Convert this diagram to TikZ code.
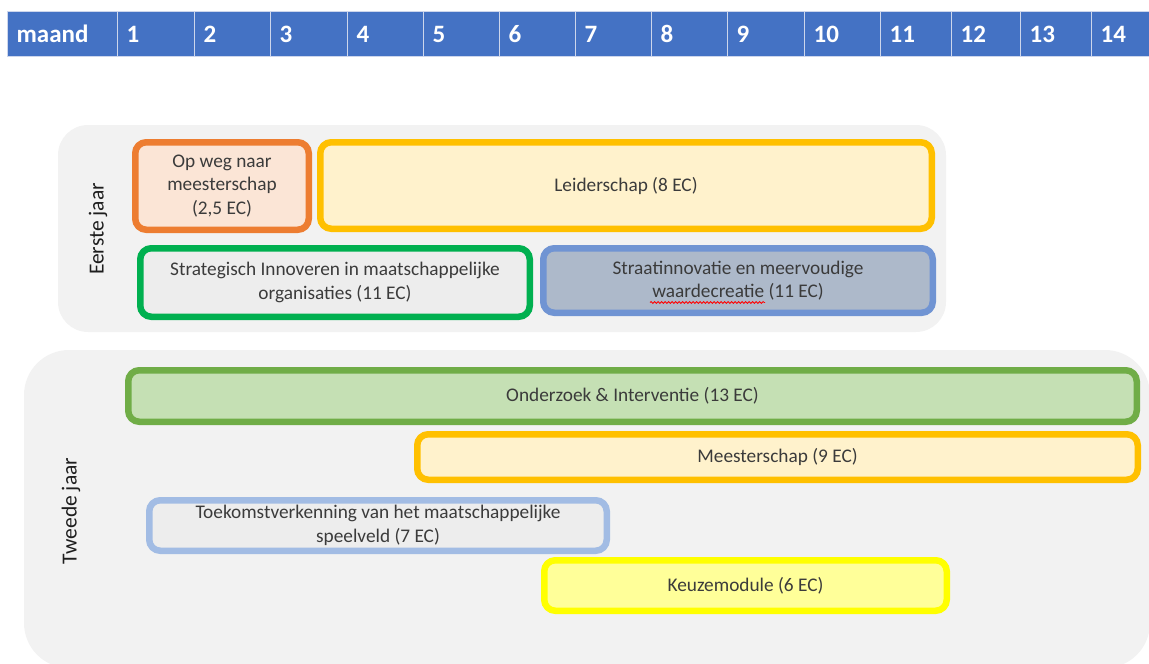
\documentclass[tikz,border=0pt]{standalone}
\usepackage{fontspec}
\setmainfont{Carlito}
\usetikzlibrary{decorations.pathmorphing}
\definecolor{hdr}{HTML}{4472C4}
\definecolor{hdrline}{HTML}{CDD6EC}
\definecolor{panelgray}{HTML}{F2F2F2}
\definecolor{txt}{HTML}{3B3B3B}
\definecolor{lbl}{HTML}{1E1E1E}
\definecolor{orangeB}{HTML}{ED7D31}\definecolor{orangeF}{HTML}{FBE5D6}
\definecolor{goldB}{HTML}{FFC000}\definecolor{goldF}{HTML}{FFF2CC}
\definecolor{greenB}{HTML}{00B050}\definecolor{grayF}{HTML}{EDEDED}
\definecolor{blueB}{HTML}{7094D3}\definecolor{blueF}{HTML}{ADB9CA}
\definecolor{lgreenB}{HTML}{70AD47}\definecolor{lgreenF}{HTML}{C5E0B4}
\definecolor{lblueB}{HTML}{A2BCE4}
\definecolor{yelB}{HTML}{FFFF00}\definecolor{yelF}{HTML}{FFFF99}
\newcommand{\boxfont}{\fontsize{19.3}{23.5}\selectfont}
\newcommand{\hdrfont}{\fontsize{25}{28}\selectfont\bfseries}
\newcommand{\lblfont}{\fontsize{21.5}{24}\selectfont}
\begin{document}
\begin{tikzpicture}[x=1pt,y=-1pt,
  hcell/.style={fill=hdr, draw=hdrline, line width=1.3pt, text=white, font=\hdrfont,
    anchor=north west, minimum height=45pt, inner xsep=9pt, align=left},
  box/.style={draw, rounded corners=11pt, line width=6.5pt, align=center, text=txt,
    font=\boxfont, inner sep=0pt},
  yearlbl/.style={rotate=90, font=\lblfont, text=lbl},
  panel/.style={fill=panelgray}]
\useasboundingbox (0,0) rectangle (1149,664);
\clip (0,0) rectangle (1149,664);
% header
\foreach \l/\a/\b [count=\i] in {maand/7/117, 1/117/194, 2/194/270, 3/270/347, 4/347/423,
   5/423/499, 6/499/575, 7/575/651, 8/651/727, 9/727/804, 10/804/880, 11/880/951,
   12/951/1020, 13/1020/1091, 14/1091/1156}{
  \pgfmathsetmacro\tw{\b-\a-18}
  \node[hcell, text width=\tw pt] (h\i) at (\a,11) {\l};
}
% panels
\fill[panel, rounded corners=30pt] (58,125) rectangle (946,332);
\fill[panel, rounded corners=45pt] (24,350) rectangle (1150,668);
% year labels
\node[yearlbl] (jaar1) at (98,229) {Eerste jaar};
\node[yearlbl] (jaar2) at (71,511) {Tweede jaar};
% first year
\node[box, draw=orangeB, fill=orangeF, minimum width=173.5pt, minimum height=87.5pt]
  (opweg) at (222,186) {Op weg naar\\meesterschap\\(2,5 EC)};
\node[box, draw=goldB, fill=goldF, minimum width=611.5pt, minimum height=86.5pt]
  (leider) at (626,185.5) {Leiderschap (8 EC)};
\node[box, draw=greenB, fill=grayF, minimum width=389.5pt, minimum height=68.5pt]
  (strat) at (335,282.5) {Strategisch Innoveren in maatschappelijke\\organisaties (11 EC)};
\node[box, draw=blueB, fill=blueF, minimum width=389.5pt, minimum height=64.5pt]
  (straat) at (738,280.5) {Straatinnovatie en meervoudige\\waardecreatie (11 EC)};
\draw[red, line width=0.8pt, decorate, decoration={snake, amplitude=1pt, segment length=3.5pt}]
  (650,302.5) -- (765,302.5);
% second year
\node[box, draw=lgreenB, fill=lgreenF, minimum width=1008.5pt, minimum height=51.5pt]
  (onderzoek) at (632.5,396) {Onderzoek \& Interventie (13 EC)};
\node[box, draw=goldB, fill=goldF, minimum width=720.5pt, minimum height=45.5pt]
  (meester) at (777.5,457) {Meesterschap (9 EC)};
\node[box, draw=lblueB, fill=grayF, minimum width=457.5pt, minimum height=50.5pt]
  (toekomst) at (378,525.5) {Toekomstverkenning van het maatschappelijke\\speelveld (7 EC)};
\node[box, draw=yelB, fill=yelF, minimum width=402.5pt, minimum height=50.5pt]
  (keuze) at (745.5,585.5) {Keuzemodule (6 EC)};
\end{tikzpicture}
\end{document}
